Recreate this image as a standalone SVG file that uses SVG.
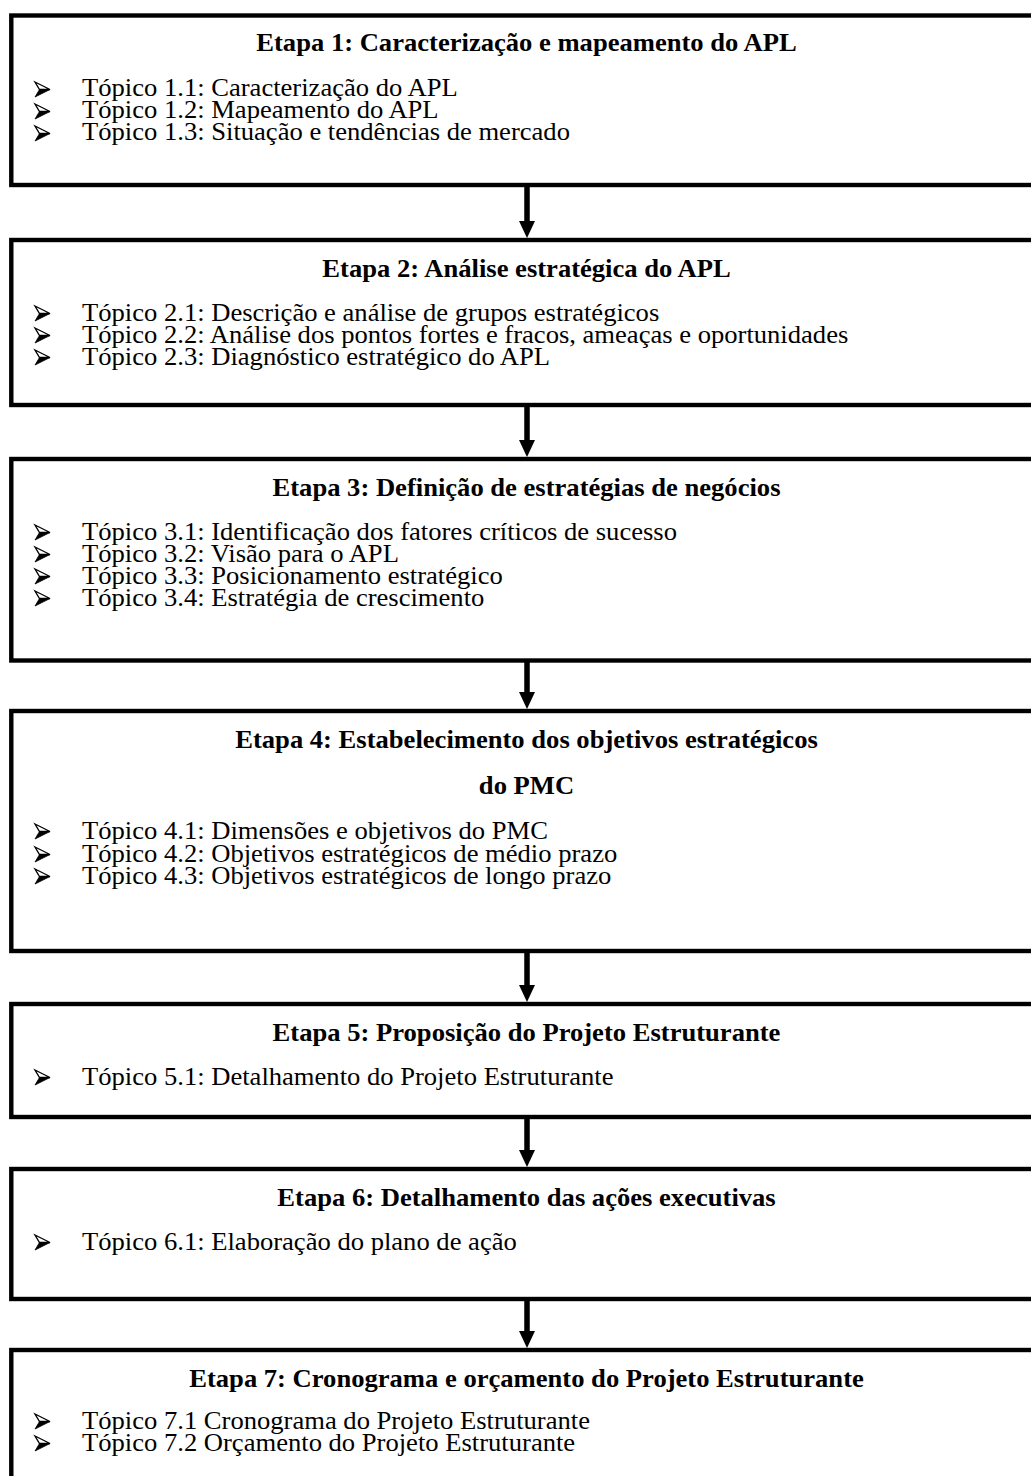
<svg xmlns="http://www.w3.org/2000/svg" width="1031" height="1476" viewBox="0 0 1031 1476">
<style>
.box{fill:#fff;stroke:#000;stroke-width:4.4}
.h{font-family:"Liberation Serif","Times New Roman",serif;font-weight:bold;font-size:25px;fill:#000;text-anchor:middle}
.t{font-family:"Liberation Serif","Times New Roman",serif;font-size:25px;fill:#000}
.shaft{stroke:#000;stroke-width:5.5}
</style>
<defs>
<g id="bul">
<polygon points="0,0 15,7.5 4.5,7.5" fill="#fff" stroke="#000" stroke-width="1.3" stroke-linejoin="miter"/>
<polygon points="4.5,7.5 15,7.5 0,15" fill="#000" stroke="#000" stroke-width="0.8"/>
</g>
</defs>
<rect width="1031" height="1476" fill="#fff"/>
<g id="connectors">
<g><line class="shaft" x1="527" y1="187" x2="527" y2="222"/><polygon points="519,221 535,221 527,238" fill="#000"/></g>
<g><line class="shaft" x1="527" y1="407" x2="527" y2="441"/><polygon points="519,440 535,440 527,457" fill="#000"/></g>
<g><line class="shaft" x1="527" y1="662" x2="527" y2="693"/><polygon points="519,692 535,692 527,709" fill="#000"/></g>
<g><line class="shaft" x1="527" y1="953" x2="527" y2="986"/><polygon points="519,985 535,985 527,1002" fill="#000"/></g>
<g><line class="shaft" x1="527" y1="1119" x2="527" y2="1151"/><polygon points="519,1150 535,1150 527,1167" fill="#000"/></g>
<g><line class="shaft" x1="527" y1="1301" x2="527" y2="1332"/><polygon points="519,1331 535,1331 527,1348" fill="#000"/></g>
</g>
<g id="etapa1">
<rect class="box" x="11.3" y="15.5" width="1040" height="169.5"/>
<g transform="translate(526.5,0) scale(1.064,1)"><text class="h" y="51.5">Etapa 1: Caracterização e mapeamento do APL</text></g>
<use href="#bul" x="35" y="82"/><use href="#bul" x="35" y="104"/><use href="#bul" x="35" y="126"/>
<g transform="translate(82,0) scale(1.064,1)">
<text class="t" y="96.5">Tópico 1.1: Caracterização do APL</text>
<text class="t" y="118.5">Tópico 1.2: Mapeamento do APL</text>
<text class="t" y="140.5">Tópico 1.3: Situação e tendências de mercado</text>
</g>
</g>
<g id="etapa2">
<rect class="box" x="11.3" y="240" width="1040" height="165"/>
<g transform="translate(526.5,0) scale(1.064,1)"><text class="h" y="277">Etapa 2: Análise estratégica do APL</text></g>
<use href="#bul" x="35" y="306"/><use href="#bul" x="35" y="328"/><use href="#bul" x="35" y="350"/>
<g transform="translate(82,0) scale(1.064,1)">
<text class="t" y="321">Tópico 2.1: Descrição e análise de grupos estratégicos</text>
<text class="t" y="343">Tópico 2.2: Análise dos pontos fortes e fracos, ameaças e oportunidades</text>
<text class="t" y="365">Tópico 2.3: Diagnóstico estratégico do APL</text>
</g>
</g>
<g id="etapa3">
<rect class="box" x="11.3" y="459" width="1040" height="201.5"/>
<g transform="translate(526.5,0) scale(1.064,1)"><text class="h" y="496">Etapa 3: Definição de estratégias de negócios</text></g>
<use href="#bul" x="35" y="525"/><use href="#bul" x="35" y="547"/><use href="#bul" x="35" y="569"/><use href="#bul" x="35" y="591"/>
<g transform="translate(82,0) scale(1.064,1)">
<text class="t" y="540">Tópico 3.1: Identificação dos fatores críticos de sucesso</text>
<text class="t" y="562">Tópico 3.2: Visão para o APL</text>
<text class="t" y="584">Tópico 3.3: Posicionamento estratégico</text>
<text class="t" y="606">Tópico 3.4: Estratégia de crescimento</text>
</g>
</g>
<g id="etapa4">
<rect class="box" x="11.3" y="711" width="1040" height="240"/>
<g transform="translate(526.5,0) scale(1.064,1)">
<text class="h" y="748">Etapa 4: Estabelecimento dos objetivos estratégicos</text>
<text class="h" y="794">do PMC</text>
</g>
<use href="#bul" x="35" y="824"/><use href="#bul" x="35" y="847"/><use href="#bul" x="35" y="869"/>
<g transform="translate(82,0) scale(1.064,1)">
<text class="t" y="839">Tópico 4.1: Dimensões e objetivos do PMC</text>
<text class="t" y="862">Tópico 4.2: Objetivos estratégicos de médio prazo</text>
<text class="t" y="884">Tópico 4.3: Objetivos estratégicos de longo prazo</text>
</g>
</g>
<g id="etapa5">
<rect class="box" x="11.3" y="1004" width="1040" height="113"/>
<g transform="translate(526.5,0) scale(1.064,1)"><text class="h" y="1041">Etapa 5: Proposição do Projeto Estruturante</text></g>
<use href="#bul" x="35" y="1070"/>
<g transform="translate(82,0) scale(1.064,1)"><text class="t" y="1085">Tópico 5.1: Detalhamento do Projeto Estruturante</text></g>
</g>
<g id="etapa6">
<rect class="box" x="11.3" y="1169" width="1040" height="130"/>
<g transform="translate(526.5,0) scale(1.064,1)"><text class="h" y="1206">Etapa 6: Detalhamento das ações executivas</text></g>
<use href="#bul" x="35" y="1235"/>
<g transform="translate(82,0) scale(1.064,1)"><text class="t" y="1250">Tópico 6.1: Elaboração do plano de ação</text></g>
</g>
<g id="etapa7">
<rect class="box" x="11.3" y="1350" width="1040" height="200"/>
<g transform="translate(526.5,0) scale(1.064,1)"><text class="h" y="1387">Etapa 7: Cronograma e orçamento do Projeto Estruturante</text></g>
<use href="#bul" x="35" y="1414"/><use href="#bul" x="35" y="1436"/>
<g transform="translate(82,0) scale(1.064,1)">
<text class="t" y="1429">Tópico 7.1 Cronograma do Projeto Estruturante</text>
<text class="t" y="1451">Tópico 7.2 Orçamento do Projeto Estruturante</text>
</g>
</g>
</svg>
